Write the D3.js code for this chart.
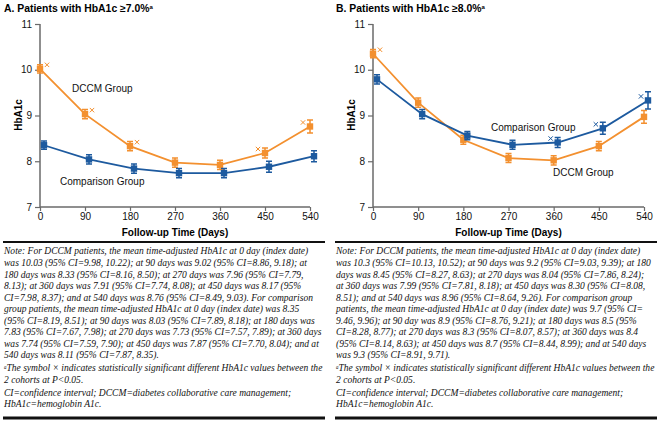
<!DOCTYPE html>
<html lang="en">
<head>
<meta charset="utf-8">
<title>HbA1c over follow-up time</title>
<script src="https://cdn.jsdelivr.net/npm/d3@7"></script>
<style>
  body { margin: 0; background: #fff; }
  svg text { font-family: "Liberation Sans", Arial, sans-serif; }
  .note { font-family: "Liberation Serif", "Times New Roman", serif; font-style: italic; font-size: 10.6px; fill: #111; }
</style>
</head>
<body>
<svg id="fig" width="662" height="421"></svg>
<script>
// follow-up days
var days = [0, 90, 180, 270, 360, 450, 540];
var yTicks = [7, 8, 9, 10, 11];

// panel A: HbA1c >= 7.0%
var dccmA = [10.02, 9.03, 8.33, 7.97, 7.92, 8.18, 8.76];
var dccmErrA = [0.09, 0.1, 0.1, 0.1, 0.1, 0.11, 0.14];
var compA = [8.35, 8.04, 7.84, 7.74, 7.74, 7.88, 8.11];
var compErrA = [0.09, 0.1, 0.1, 0.1, 0.1, 0.12, 0.12];
// significance marks: [series, index, side]
var sigA = [["dccm", 0, 1], ["dccm", 1, 1], ["dccm", 2, 1], ["dccm", 5, -1], ["dccm", 6, -1]];

// panel B: HbA1c >= 8.0%
var dccmB = [10.35, 9.28, 8.47, 8.07, 8.02, 8.33, 8.97];
var dccmErrB = [0.09, 0.1, 0.1, 0.1, 0.1, 0.1, 0.14];
var compB = [9.79, 9.03, 8.56, 8.36, 8.41, 8.72, 9.33];
var compErrB = [0.1, 0.1, 0.09, 0.1, 0.11, 0.13, 0.19];
var sigB = [["dccm", 0, 1], ["comp", 4, -1], ["comp", 5, -1], ["comp", 6, -1]];

var notesA = [
  "Note: For DCCM patients, the mean time-adjusted HbA1c at 0 day (index date)",
  "was 10.03 (95% CI=9.98, 10.22); at 90 days was 9.02 (95% CI=8.86, 9.18); at",
  "180 days was 8.33 (95% CI=8.16, 8.50); at 270 days was 7.96 (95% CI=7.79,",
  "8.13); at 360 days was 7.91 (95% CI=7.74, 8.08); at 450 days was 8.17 (95%",
  "CI=7.98, 8.37); and at 540 days was 8.76 (95% CI=8.49, 9.03). For comparison",
  "group patients, the mean time-adjusted HbA1c at 0 day (index date) was 8.35",
  "(95% CI=8.19, 8.51); at 90 days was 8.03 (95% CI=7.89, 8.18); at 180 days was",
  "7.83 (95% CI=7.67, 7.98); at 270 days was 7.73 (95% CI=7.57, 7.89); at 360 days",
  "was 7.74 (95% CI=7.59, 7.90); at 450 days was 7.87 (95% CI=7.70, 8.04); and at",
  "540 days was 8.11 (95% CI=7.87, 8.35)."
];
var notesB = [
  "Note: For DCCM patients, the mean time-adjusted HbA1c at 0 day (index date)",
  "was 10.3 (95% CI=10.13, 10.52); at 90 days was 9.2 (95% CI=9.03, 9.39); at 180",
  "days was 8.45 (95% CI=8.27, 8.63); at 270 days was 8.04 (95% CI=7.86, 8.24);",
  "at 360 days was 7.99 (95% CI=7.81, 8.18); at 450 days was 8.30 (95% CI=8.08,",
  "8.51); and at 540 days was 8.96 (95% CI=8.64, 9.26). For comparison group",
  "patients, the mean time-adjusted HbA1c at 0 day (index date) was 9.7 (95% CI=",
  "9.46, 9.96); at 90 day was 8.9 (95% CI=8.76, 9.21); at 180 days was 8.5 (95%",
  "CI=8.28, 8.77); at 270 days was 8.3 (95% CI=8.07, 8.57); at 360 days was 8.4",
  "(95% CI=8.14, 8.63); at 450 days was 8.7 (95% CI=8.44, 8.99); and at 540 days",
  "was 9.3 (95% CI=8.91, 9.71)."
];
var footSig = ["The symbol \u00d7 indicates statistically significant different HbA1c values between the", "2 cohorts at P<0.05."];
var footAbbr = ["CI=confidence interval; DCCM=diabetes collaborative care management;", "HbA1c=hemoglobin A1c."];

var orange = "#f3902f", blue = "#1d5a9f", axisGrey = "#6a6a6a";
var svg = d3.select("#fig");

function panel(o) {
  var g = svg.append("g");
  var x = d3.scaleLinear().domain([0, 540]).range([o.x0, o.x1]);
  var y = d3.scaleLinear().domain([7, 11]).range([207, 24]);
  var dodge = 4;

  // title
  var t = g.append("text").attr("x", o.left + 1).attr("y", 12)
    .style("font-size", "10.4px").style("font-weight", "bold").text(o.title);
  t.append("tspan").attr("dy", -3).style("font-size", "6px").text("a");

  // y axis
  var ya = g.append("g").attr("transform", "translate(" + o.x0 + ",0)")
    .call(d3.axisLeft(y).tickValues(yTicks).tickFormat(d3.format("d")).tickSize(5).tickPadding(3));
  ya.select(".domain").attr("d", "M0," + y(11) + "V" + y(7)).attr("stroke", axisGrey).attr("stroke-width", 1.5);
  ya.selectAll(".tick line").attr("stroke", axisGrey).attr("stroke-width", 1.2);
  ya.selectAll(".tick text").style("font-size", "10px").attr("fill", "#111").attr("font-family", null);

  // x axis
  var xa = g.append("g").attr("transform", "translate(0," + y(7) + ")")
    .call(d3.axisBottom(x).tickValues(days).tickFormat(d3.format("d")).tickSize(4).tickPadding(2));
  xa.select(".domain").attr("d", "M" + x(0) + ",0H" + x(540)).attr("stroke", axisGrey).attr("stroke-width", 1.5);
  xa.selectAll(".tick line").attr("stroke", axisGrey).attr("stroke-width", 1.2);
  xa.selectAll(".tick text").style("font-size", "10px").attr("fill", "#111").attr("font-family", null);

  g.append("text").attr("x", (x(0) + x(540)) / 2).attr("y", 236).attr("text-anchor", "middle")
    .style("font-size", "10px").style("font-weight", "bold").text("Follow-up Time (Days)");
  g.append("text").attr("transform", "translate(" + (o.x0 - 18) + "," + 115 + ") rotate(-90)")
    .attr("text-anchor", "middle").style("font-size", "10px").style("font-weight", "bold").text("HbA1c");

  var series = [
    { key: "dccm", vals: o.dccm, err: o.dccmErr, color: orange, dx: 0 },
    { key: "comp", vals: o.comp, err: o.compErr, color: blue, dx: dodge }
  ];
  series.forEach(function (s) {
    var pts = days.map(function (d, i) { return { d: d, v: s.vals[i], e: s.err[i] }; });
    g.append("path").datum(pts).attr("fill", "none").attr("stroke", s.color).attr("stroke-width", 1.8)
      .attr("d", d3.line().x(function (p) { return x(p.d) + s.dx; }).y(function (p) { return y(p.v); }));
    var pg = g.selectAll(null).data(pts).enter().append("g")
      .attr("transform", function (p) { return "translate(" + (x(p.d) + s.dx) + ",0)"; });
    pg.append("path").attr("fill", "none").attr("stroke", s.color).attr("stroke-width", 1.5)
      .attr("d", function (p) {
        var a = y(p.v + p.e), b = y(p.v - p.e);
        return "M0," + a + "V" + b + "M-3," + a + "H3M-3," + b + "H3";
      });
    pg.append("rect").attr("x", -3.2).attr("y", function (p) { return y(p.v) - 3.2; })
      .attr("width", 6.4).attr("height", 6.4).attr("fill", s.color);
  });

  // significance crosses
  o.sig.forEach(function (m) {
    var s = m[0] === "dccm" ? series[0] : series[1];
    var cx = x(days[m[1]]) + s.dx + m[2] * 7, cy = y(s.vals[m[1]]) - 4;
    g.append("path").attr("stroke", s.color).attr("stroke-width", 1).attr("fill", "none")
      .attr("d", "M" + (cx - 2.2) + "," + (cy - 2.2) + "L" + (cx + 2.2) + "," + (cy + 2.2) +
        "M" + (cx - 2.2) + "," + (cy + 2.2) + "L" + (cx + 2.2) + "," + (cy - 2.2));
  });

  // group labels
  o.labels.forEach(function (l) {
    g.append("text").attr("x", l[1]).attr("y", l[2]).style("font-size", "10px").attr("fill", "#111").text(l[0]);
  });

  // notes block, squeezed horizontally to fit the column
  g.append("line").attr("x1", o.left).attr("x2", o.right).attr("y1", 242).attr("y2", 242)
    .attr("stroke", "#111").attr("stroke-width", 2);
  var lh = 11.55, y0 = 254.5, sq = 0.9;
  var ng = g.append("g").attr("transform", "translate(" + (o.left + 1) + ",0) scale(" + sq + ",1)");
  o.notes.forEach(function (line, i) {
    ng.append("text").attr("class", "note").attr("x", 0).attr("y", y0 + i * lh).text(line);
  });
  var yf = y0 + o.notes.length * lh + 1.2;
  var f = ng.append("text").attr("class", "note").attr("x", 0).attr("y", yf);
  f.append("tspan").attr("dy", -2.5).style("font-size", "5.5px").text("a");
  f.append("tspan").attr("dy", 2.5).text(footSig[0]);
  ng.append("text").attr("class", "note").attr("x", 0).attr("y", yf + lh).text(footSig[1]);
  footAbbr.forEach(function (line, i) {
    ng.append("text").attr("class", "note").attr("x", 0).attr("y", yf + 2 * lh + 1.5 + i * lh).text(line);
  });
  g.append("line").attr("x1", o.left).attr("x2", o.right).attr("y1", 418).attr("y2", 418)
    .attr("stroke", "#111").attr("stroke-width", 3);
}

panel({
  title: "A. Patients with HbA1c \u22657.0%", left: 3, right: 325, x0: 40, x1: 310,
  dccm: dccmA, dccmErr: dccmErrA, comp: compA, compErr: compErrA, sig: sigA,
  labels: [["DCCM Group", 72, 92], ["Comparison Group", 60, 185]], notes: notesA
});
panel({
  title: "B. Patients with HbA1c \u22658.0%", left: 335, right: 657, x0: 373, x1: 644,
  dccm: dccmB, dccmErr: dccmErrB, comp: compB, compErr: compErrB, sig: sigB,
  labels: [["Comparison Group", 491, 131], ["DCCM Group", 553, 176]], notes: notesB
});
</script>
</body>
</html>
